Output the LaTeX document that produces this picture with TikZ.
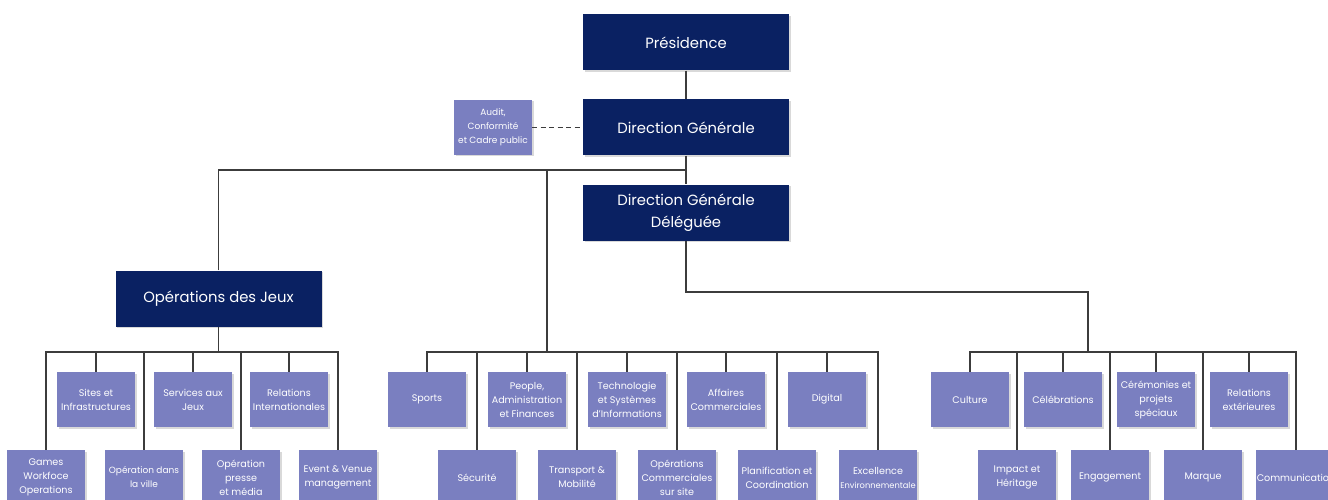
\documentclass[tikz,border=0pt]{standalone}
\usepackage{fontspec}
\setmainfont{Poppins}
\usepackage{tikz}
\usetikzlibrary{shadows}

\definecolor{navy}{RGB}{10,33,98}
\definecolor{lilac}{RGB}{122,127,192}
\definecolor{wire}{RGB}{60,60,60}

\begin{document}
\begin{tikzpicture}[
    x=1pt, y=-1pt,
    every node/.style={inner sep=1pt, text=white, align=center},
    head/.style={fill=navy, minimum width=206pt, minimum height=56pt,
        font=\fontsize{14.8}{22}\selectfont,
        drop shadow={shadow xshift=1.5pt, shadow yshift=-1.5pt, opacity=0.3}},
    unit/.style={fill=lilac, minimum width=78pt, minimum height=55pt,
        font=\fontsize{9.6}{14}\selectfont,
        drop shadow={shadow xshift=1.5pt, shadow yshift=-1.5pt, opacity=0.3}},
    link/.style={draw=wire, line width=1.1pt}
]
\useasboundingbox (0,0) rectangle (1328,500);
\clip (0,0) rectangle (1328,500);

% direction
\node[head] (pres) at (686,42.5) {Présidence};
\node[head] (dg) at (686,127.5) {Direction Générale};
\node[head] (dgd) at (686,212.5) {Direction Générale\\Déléguée};
\node[unit, font=\fontsize{9}{14}\selectfont] (audit) at (493,127.5) {Audit,\\Conformité\\et Cadre public};
\node[head] (ops) at (218.5,298.5) {Opérations des Jeux};

\coordinate (topbus) at (686,170);
\coordinate (midtop) at (547,170);
\coordinate (opshub) at (218.5,352);
\coordinate (midhub) at (547,352);
\coordinate (righthub) at (1088,352);

% operations des jeux
\node[unit] (sites) at (96,399.5) {Sites et\\Infrastructures};
\node[unit] (services) at (193,399.5) {Services aux\\Jeux};
\node[unit] (relint) at (289,399.5) {Relations\\Internationales};
\node[unit] (games) at (46,477.5) {Games\\Workfoce\\Operations};
\node[unit, font=\fontsize{9}{14}\selectfont] (ville) at (144,477.5) {Opération dans\\la ville};
\node[unit] (presse) at (241,477.5) {Opération\\presse\\et média};
\node[unit] (event) at (338,477.5) {Event \& Venue\\management};

% direction generale
\node[unit] (sports) at (427,399.5) {Sports};
\node[unit] (people) at (527,399.5) {People,\\Administration\\et Finances};
\node[unit] (techno) at (627,399.5) {Technologie\\et Systèmes\\d'Informations};
\node[unit] (affaires) at (726,399.5) {Affaires\\Commerciales};
\node[unit] (digital) at (827,399.5) {Digital};
\node[unit] (securite) at (477,477.5) {Sécurité};
\node[unit] (transport) at (577,477.5) {Transport \&\\Mobilité};
\node[unit] (opcom) at (677,477.5) {Opérations\\Commerciales\\sur site};
\node[unit] (planif) at (777,477.5) {Planification et\\Coordination};
\node[unit] (excel) at (878,477.5) {Excellence\\{\fontsize{8.3}{14}\selectfont Environnementale}};

% direction generale deleguee
\node[unit] (culture) at (970,399.5) {Culture};
\node[unit] (celeb) at (1063,399.5) {Célébrations};
\node[unit] (ceremo) at (1156,399.5) {Cérémonies et\\projets\\spéciaux};
\node[unit] (relext) at (1249,399.5) {Relations\\extérieures};
\node[unit] (impact) at (1017,477.5) {Impact et\\Héritage};
\node[unit] (engage) at (1110,477.5) {Engagement};
\node[unit] (marque) at (1203,477.5) {Marque};
\node[unit] (commu) at (1296,477.5) {Communication};

% connectors
\draw[link] (pres) -- (dg);
\draw[link] (dg) -- (dgd);
\draw[link, dash pattern=on 5pt off 3.5pt] (audit) -- (dg);
\draw[link] (ops.north) |- (topbus);
\draw[link] (midhub) -- (midtop);
\draw[link] (dgd.south) |- (righthub |- 0,292) -- (righthub);
\draw[link] (ops.south) -- (opshub);
\foreach \b in {sites,services,relint,games,ville,presse,event}
    \draw[link] (\b.north) |- (opshub);
\foreach \b in {sports,people,techno,affaires,digital,securite,transport,opcom,planif,excel}
    \draw[link] (\b.north) |- (midhub);
\foreach \b in {culture,celeb,ceremo,relext,impact,engage,marque,commu}
    \draw[link] (\b.north) |- (righthub);

\end{tikzpicture}
\end{document}
